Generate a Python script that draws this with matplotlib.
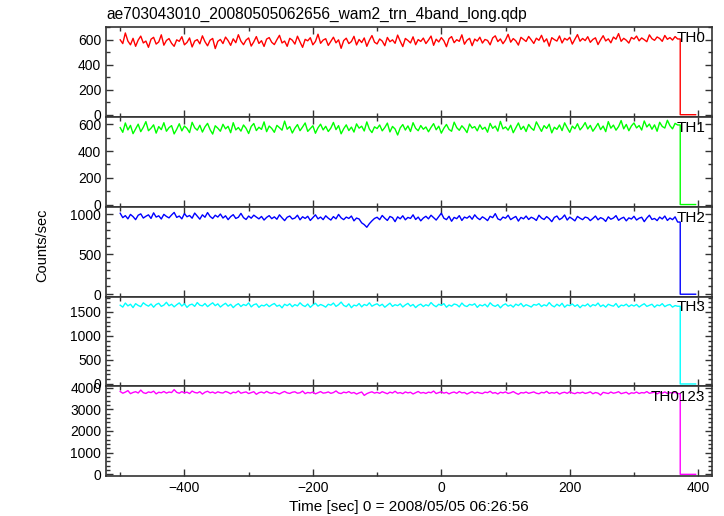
import numpy as np
import matplotlib
matplotlib.use("Agg")
import matplotlib.pyplot as plt
from matplotlib.ticker import MultipleLocator

plt.rcParams['font.family'] = ['Liberation Sans', 'DejaVu Sans']

title = "ae703043010_20080505062656_wam2_trn_4band_long.qdp"
band_names = ["TH0", "TH1", "TH2", "TH3", "TH0123"]
band_colors = ["#ff0000", "#00ff00", "#0000ff", "#00ffff", "#ff00ff"]

# 4 s bins starting at t = -500 s, count rate
t_start = -500
bin_size = 4

th0 = [600, 570, 655, 590, 560, 612, 548, 598, 630, 575, 590, 540, 605, 620, 566, 583, 640, 557, 595, 610,
       572, 548, 600, 588, 625, 560, 579, 615, 543, 590, 602, 568, 632, 585, 552, 597, 611, 530, 588, 603,
       570, 622, 594, 556, 608, 577, 641, 589, 561, 598, 615, 550, 584, 626, 571, 593, 547, 606, 618, 580,
       562, 601, 636, 575, 590, 548, 612, 597, 566, 629, 583, 540, 604, 592, 617, 560, 587, 645, 572, 598,
       609, 555, 588, 621, 576, 600, 532, 594, 613, 570, 586, 628, 559, 603, 578, 615, 548, 596, 634, 581,
       567, 607, 590, 553, 619, 585, 600, 572, 638, 589, 546, 611, 595, 575, 624, 561, 602, 587, 614, 570,
       598, 630, 556, 605, 583, 618, 592, 545, 609, 626, 577, 601, 588, 640, 565, 597, 612, 553, 606, 590,
       621, 574, 603, 595, 560, 615, 632, 586, 607, 569, 599, 644, 581, 610, 592, 558, 620, 604, 587, 627,
       600, 571, 613, 596, 636, 583, 608, 549, 617, 602, 590, 631, 575, 612, 598, 620, 566, 605, 642, 589,
       611, 594, 625, 580, 603, 616, 562, 600, 633, 591, 608, 576, 622, 605, 650, 588, 612, 597, 574, 619,
       606, 630, 592, 615, 601, 585, 640, 609, 596, 623, 611, 588, 635, 604, 618, 598, 626, 607]

th1 = [575, 540, 610, 558, 592, 530, 566, 601, 545, 578, 620, 552, 571, 596, 534, 583, 560, 612, 548, 575,
       590, 528, 563, 604, 551, 587, 569, 538, 615, 574, 556, 593, 542, 581, 607, 560, 527, 589, 571, 548,
       600, 566, 585, 537, 612, 558, 576, 549, 595, 570, 531, 584, 606, 553, 578, 562, 618, 545, 587, 569,
       540, 592, 575, 556, 624, 563, 583, 535, 571, 598, 552, 580, 610, 547, 568, 589, 533, 574, 601, 558,
       585, 546, 572, 614, 560, 590, 529, 567, 596, 553, 579, 542, 603, 571, 586, 550, 618, 564, 538, 581,
       568, 595, 551, 576, 609, 543, 584, 565, 520, 573, 598, 557, 588, 546, 612, 570, 552, 591, 563, 580,
       544, 577, 605, 559, 586, 534, 571, 599, 562, 548, 616, 575, 555, 589, 567, 538, 602, 572, 583, 551,
       596, 563, 578, 541, 607, 570, 587, 549, 622, 566, 580, 556, 593, 537, 574, 610, 561, 585, 546, 599,
       572, 555, 618, 583, 547, 590, 569, 601, 536, 578, 562, 595, 553, 611, 574, 540, 586, 567, 604, 558,
       581, 613, 565, 592, 548, 576, 607, 560, 587, 545, 620, 571, 594, 556, 583, 628, 566, 599, 552, 588,
       610, 573, 591, 557, 625, 580, 602, 563, 596, 548, 615, 584, 572, 630, 590, 566, 607, 595]

th2 = [1010, 955, 980, 940, 995, 968, 930, 985, 1002, 950, 972, 990, 945, 1015, 962, 978, 938, 996, 970, 952,
       988, 1020, 958, 975, 940, 1005, 966, 982, 948, 1012, 975, 936, 990, 960, 1018, 970, 944, 985, 962, 1000,
       950, 978, 930, 968, 992, 945, 960, 1008, 955, 932, 975, 948, 986, 962, 940, 970, 925, 958, 980, 942,
       965, 935, 990, 952, 918, 960, 975, 938, 950, 985, 928, 966, 945, 972, 920, 955, 990, 940, 962, 930,
       978, 948, 925, 968, 940, 995, 952, 930, 962, 945, 975, 915, 950, 938, 890, 868, 835, 880, 915, 945,
       960, 930, 982, 948, 920, 970, 955, 905, 965, 940, 978, 928, 958, 945, 990, 932, 962, 915, 950, 972,
       940, 985, 955, 925, 968, 1010, 948, 930, 972, 910, 958, 942, 980, 920, 962, 948, 975, 935, 990, 952,
       930, 965, 945, 918, 972, 955, 1005, 940, 925, 962, 948, 985, 930, 952, 970, 912, 958, 940, 975, 932,
       960, 945, 920, 985, 950, 932, 968, 942, 905, 958, 975, 930, 950, 988, 925, 962, 940, 915, 970, 948,
       930, 962, 952, 918, 945, 975, 928, 955, 940, 908, 965, 935, 950, 980, 922, 945, 960, 915, 952, 938,
       972, 925, 948, 960, 905, 950, 985, 932, 945, 918, 962, 938, 975, 920, 950, 930, 965, 900]

th3 = [1640, 1600, 1685, 1625, 1660, 1590, 1672, 1635, 1610, 1690, 1648, 1620, 1665, 1598, 1655, 1680, 1615, 1642, 1700, 1628,
       1660, 1605, 1650, 1688, 1622, 1670, 1595, 1645, 1662, 1615, 1695, 1640, 1625, 1675, 1610, 1652, 1690, 1630, 1668, 1602,
       1645, 1680, 1620, 1658, 1590, 1640, 1672, 1612, 1655, 1632, 1688, 1605, 1650, 1668, 1595, 1640, 1625, 1662, 1610, 1648,
       1675, 1618, 1642, 1585, 1660, 1630, 1670, 1608, 1652, 1625, 1690, 1638, 1612, 1665, 1595, 1645, 1680, 1620, 1655, 1632,
       1600, 1660, 1640, 1685, 1615, 1650, 1705, 1635, 1610, 1668, 1588, 1642, 1625, 1675, 1605, 1655, 1632, 1690, 1618, 1648,
       1670, 1625, 1660, 1598, 1640, 1682, 1615, 1650, 1630, 1668, 1602, 1645, 1678, 1620, 1655, 1590, 1638, 1662, 1612, 1650,
       1625, 1695, 1640, 1608, 1660, 1635, 1672, 1598, 1645, 1620, 1665, 1650, 1605, 1685, 1630, 1612, 1658, 1640, 1670, 1595,
       1648, 1625, 1660, 1605, 1690, 1638, 1615, 1652, 1585, 1640, 1668, 1620, 1645, 1600, 1662, 1632, 1678, 1610, 1650, 1628,
       1602, 1655, 1640, 1672, 1612, 1648, 1625, 1695, 1635, 1605, 1660, 1622, 1680, 1598, 1645, 1630, 1665, 1615, 1650, 1588,
       1640, 1625, 1668, 1608, 1652, 1630, 1685, 1612, 1645, 1600, 1660, 1635, 1620, 1675, 1595, 1642, 1628, 1662, 1610, 1648,
       1622, 1655, 1602, 1640, 1670, 1615, 1638, 1660, 1598, 1645, 1628, 1672, 1610, 1640, 1655, 1600, 1632, 1618]

th0123 = [3820, 3740, 3790, 3860, 3720, 3775, 3810, 3750, 3885, 3765, 3730, 3800, 3770, 3835, 3710, 3785, 3760, 3820, 3745, 3795,
          3770, 3905, 3780, 3740, 3815, 3755, 3790, 3725, 3840, 3775, 3750, 3810, 3700, 3785, 3830, 3760, 3795, 3735, 3805, 3765,
          3750, 3820, 3780, 3715, 3790, 3760, 3845, 3740, 3775, 3800, 3725, 3770, 3810, 3690, 3765, 3795, 3745, 3825, 3760, 3735,
          3790, 3745, 3705, 3770, 3820, 3755, 3730, 3785, 3805, 3740, 3760, 3840, 3720, 3775, 3750, 3795, 3710, 3765, 3815, 3745,
          3760, 3800, 3735, 3770, 3845, 3750, 3725, 3790, 3760, 3815, 3740, 3775, 3700, 3755, 3795, 3640, 3720, 3770, 3805, 3745,
          3780, 3735, 3810, 3760, 3715, 3790, 3750, 3830, 3740, 3770, 3720, 3800, 3755, 3785, 3705, 3765, 3820, 3745, 3775, 3730,
          3790, 3760, 3840, 3725, 3770, 3805, 3745, 3780, 3710, 3765, 3795, 3735, 3820, 3755, 3775, 3700, 3760, 3810, 3740, 3785,
          3750, 3725, 3790, 3765, 3830, 3740, 3770, 3705, 3785, 3755, 3800, 3730, 3760, 3815, 3745, 3690, 3770, 3750, 3795, 3735,
          3765, 3800, 3740, 3715, 3780, 3755, 3825, 3730, 3770, 3745, 3790, 3700, 3760, 3785, 3735, 3810, 3750, 3720, 3775, 3745,
          3790, 3730, 3760, 3805, 3715, 3770, 3745, 3655, 3780, 3755, 3725, 3795, 3740, 3765, 3810, 3720, 3750, 3785, 3700, 3760,
          3740, 3795, 3725, 3770, 3750, 3815, 3735, 3760, 3790, 3710, 3775, 3745, 3800, 3730, 3765, 3750, 3785, 3720]

# after the drop at ~372 s the rate is zero until the end of the file
drop_time = 372
tail_counts = [0, 0, 0, 0, 0, 0, 0]

series = [th0, th1, th2, th3, th0123]
ylims = [(-19, 700), (-17, 654), (-29, 1090), (-48, 1820), (-77, 4060)]
y_major = [200, 200, 500, 500, 1000]
y_minor = [100, 100, 100, 100, 200]

fig, axes = plt.subplots(5, 1, sharex=True, figsize=(7.24, 5.16), dpi=100)
fig.subplots_adjust(left=0.1465, right=0.983, top=0.947, bottom=0.0775, hspace=0)

for i, ax in enumerate(axes):
    vals = series[i]
    t = t_start + bin_size * np.arange(len(vals))
    t_tail = drop_time + bin_size * np.arange(len(tail_counts))
    # noisy light curve, then a vertical drop to the zero tail
    t_all = np.concatenate([t, [drop_time], t_tail])
    v_all = np.concatenate([vals, [vals[-1]], tail_counts])
    ax.plot(t_all, v_all, color=band_colors[i], lw=1.0)
    ax.set_xlim(-522, 421)
    ax.set_ylim(*ylims[i])
    ax.xaxis.set_major_locator(MultipleLocator(200))
    ax.xaxis.set_minor_locator(MultipleLocator(100))
    ax.yaxis.set_major_locator(MultipleLocator(y_major[i]))
    ax.yaxis.set_minor_locator(MultipleLocator(y_minor[i]))
    ax.tick_params(which='both', direction='in', top=True, right=True,
                   labelsize=10, color='#333333', width=1)
    ax.tick_params(which='major', length=5)
    ax.tick_params(which='minor', length=3)
    for sp in ax.spines.values():
        sp.set_linewidth(1.2)
        sp.set_color('#333333')
    ax.text(0.9895, 0.88, band_names[i], transform=ax.transAxes,
            ha='right', va='center', fontsize=11)

axes[-1].set_xlabel("Time [sec] 0 = 2008/05/05 06:26:56", fontsize=11, labelpad=4)
fig.text(0.058, 0.525, "Counts/sec", rotation=90, ha='center', va='center', fontsize=10.5)
fig.text(0.1465, 0.972, title, ha='left', va='center', fontsize=11.2)

fig.savefig("out.png", dpi=100)
